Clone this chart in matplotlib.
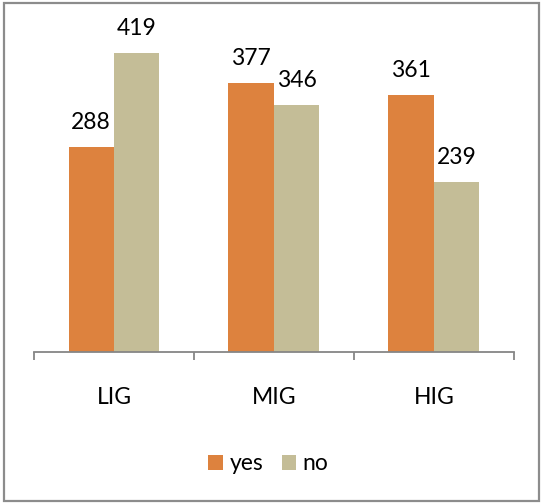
import matplotlib
matplotlib.use("Agg")
import matplotlib.pyplot as plt
import matplotlib.patches as mpatches
import numpy as np

categories = ["LIG", "MIG", "HIG"]
yes_values = [288, 377, 361]
no_values = [419, 346, 239]
series_names = ["yes", "no"]

plt.rcParams['font.family'] = ['Lato', 'DejaVu Sans']

W, H = 543, 504
fig = plt.figure(figsize=(W / 100, H / 100), dpi=100)
fig.patch.set_facecolor('white')

ax = fig.add_axes([34 / W, (H - 352) / H, (513.7 - 34) / W, 320.9 / H])

x = np.arange(len(categories))
bw = 0.284
c_yes = '#DD823E'
c_no = '#C4BD97'
fs = 16.5
b1 = ax.bar(x - bw / 2, yes_values, bw, color=c_yes, label=series_names[0], zorder=2)
b2 = ax.bar(x + bw / 2, no_values, bw, color=c_no, label=series_names[1], zorder=2)

for bars, vals in ((b1, yes_values), (b2, no_values)):
    for r, v in zip(bars, vals):
        ax.annotate(str(v), (r.get_x() + r.get_width() / 2, v),
                    xytext=(0, 13), textcoords='offset points',
                    ha='center', va='baseline', fontsize=fs, color='black',
                    annotation_clip=False)

ax.set_xlim(-0.5, len(categories) - 0.5)
ax.set_ylim(0, 450)
ax.set_yticks([])
for s in ['top', 'right', 'left']:
    ax.spines[s].set_visible(False)
ax.spines['bottom'].set_color('#868686')
ax.spines['bottom'].set_linewidth(1.3)
ax.spines['bottom'].set_zorder(3)

ax.set_xticks(x)
ax.set_xticklabels(categories, fontsize=fs)
ax.tick_params(axis='x', which='major', length=0, pad=25)
ax.set_xticks(np.arange(-0.5, len(categories), 1.0), minor=True)
ax.tick_params(axis='x', which='minor', length=6, width=1.3, color='#868686', direction='out')

fig.legend(handles=[b1, b2], labels=series_names, loc='center',
           bbox_to_anchor=(268.5 / W, 1 - 464 / H), ncol=2, frameon=False,
           fontsize=fs, handlelength=0.62, handleheight=0.62,
           handletextpad=0.3, columnspacing=0.8)

fig.add_artist(mpatches.Rectangle((4 / W, 3 / H), (539 - 4) / W, (501 - 3) / H,
                                  transform=fig.transFigure, fill=False,
                                  edgecolor='#8c8c8c', linewidth=1.6))

fig.savefig('out.png', dpi=100, facecolor='white')
